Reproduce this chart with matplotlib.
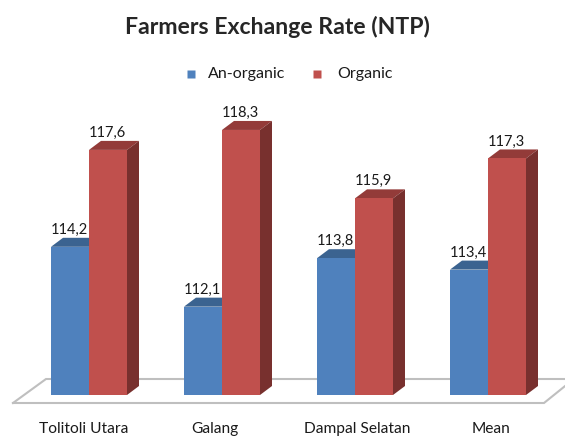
import numpy as np
import matplotlib
matplotlib.use("Agg")
import matplotlib.pyplot as plt
from matplotlib.patches import Polygon
from matplotlib.lines import Line2D

plt.rcParams['font.family'] = ['Lato', 'DejaVu Sans']

CATEGORIES = ["Tolitoli Utara", "Galang", "Dampal Selatan", "Mean"]
AN_ORGANIC = [114.2, 112.1, 113.8, 113.4]
ORGANIC = [117.6, 118.3, 115.9, 117.3]
SERIES_NAMES = ["An-organic", "Organic"]

W, H = 565, 437
BASE_PX = 395       # bar foot, pixels from the top
BASE_VAL = 109
PX_PER_UNIT = 28.5
GROUP_X0 = 89
GROUP_STEP = 133
BAR_PX = 38
DEPTH_X, DEPTH_Y = 12, 9


def style(face, top, side):
    return {"face": face, "top": top, "side": side}


BLUE = style("#4F81BD", "#3B6390", "#3B6390")
RED = style("#C0504D", "#933B39", "#78302E")

fig = plt.figure(figsize=(W / 100, H / 100), dpi=100)
ax = fig.add_axes([0, 0, 1, 1])
ax.set_xlim(-GROUP_X0 / GROUP_STEP, (W - GROUP_X0) / GROUP_STEP)
ax.set_ylim(BASE_VAL - (H - BASE_PX) / PX_PER_UNIT, BASE_VAL + BASE_PX / PX_PER_UNIT)
ax.axis("off")

dx = DEPTH_X / GROUP_STEP
dy = DEPTH_Y / PX_PER_UNIT
bar_w = BAR_PX / GROUP_STEP


def px(x, y):
    return (x - GROUP_X0) / GROUP_STEP, BASE_VAL + (BASE_PX - y) / PX_PER_UNIT


# floor outline
floor_x, floor_y = zip(*[px(13, 403), px(46, 379), px(580, 379)])
ax.plot(floor_x, floor_y, color="#BFBFBF", lw=1.5, zorder=1, solid_joinstyle="miter")
floor_x, floor_y = zip(*[px(13, 403), px(544, 403), px(580, 374)])
ax.plot(floor_x, floor_y, color="#BFBFBF", lw=1.5, zorder=1, solid_joinstyle="miter")


def draw_bars(values, left_shift, colors, z):
    xs = np.arange(len(values)) + left_shift
    ax.bar(xs, np.array(values) - BASE_VAL, width=bar_w, bottom=BASE_VAL, align="edge",
           color=colors["face"], linewidth=0, zorder=z + 1)
    for x, v in zip(xs, values):
        ax.add_patch(Polygon([(x, v), (x + bar_w, v), (x + bar_w + dx, v + dy), (x + dx, v + dy)],
                             closed=True, fc=colors["top"], ec="none", zorder=z))
        ax.add_patch(Polygon([(x + bar_w, BASE_VAL), (x + bar_w + dx, BASE_VAL + dy),
                              (x + bar_w + dx, v + dy), (x + bar_w, v)],
                             closed=True, fc=colors["side"], ec="none", zorder=z))
        ax.annotate(f"{v:.1f}".replace(".", ","), (x + bar_w / 2, v), xytext=(-0.7, 17 * 0.72),
                    textcoords="offset points", ha="center", va="center",
                    fontsize=10.5, color="#1A1A1A", zorder=10)


draw_bars(AN_ORGANIC, -bar_w, BLUE, 3)
draw_bars(ORGANIC, 0, RED, 5)

# category labels sit a little off the group centres in the original
LABEL_PX = [84, 215, 357, 491]
for name, lx in zip(CATEGORIES, LABEL_PX):
    ax.text(*px(lx, 429), name, ha="center", va="center", fontsize=11.2, color="#1A1A1A")

ax.text(*px(277, 27), "Farmers Exchange Rate (NTP)", ha="center", va="center",
        fontsize=16.6, fontweight="bold", color="#262626")

# legend, placed by hand like the original
for name, c, mx, tx in zip(SERIES_NAMES, [BLUE, RED], [191, 317], [208, 337]):
    mpos = px(mx, 74)
    ax.add_line(Line2D([mpos[0]], [mpos[1]], marker="s", ms=5.4, mfc=c["face"], mec="none", ls=""))
    ax.text(*px(tx, 74), name, ha="left", va="center", fontsize=11.5, color="#1A1A1A")

fig.savefig("out.png", dpi=100)
